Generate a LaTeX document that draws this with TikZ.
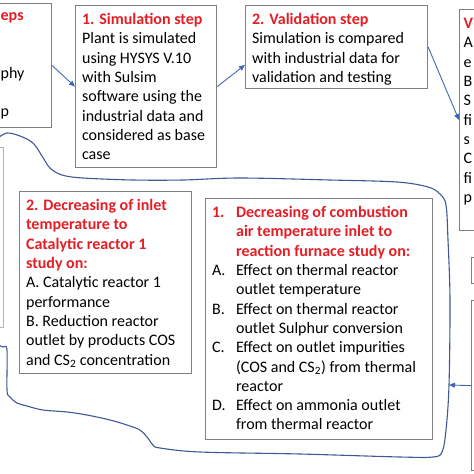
\documentclass[tikz,border=0pt]{standalone}
\usepackage{fontspec}
\setmainfont{Carlito}
\usetikzlibrary{arrows.meta}
\definecolor{boxgray}{RGB}{128,128,128}
\definecolor{stepred}{RGB}{228,30,36}
\definecolor{linkblue}{RGB}{68,104,176}
\newcommand{\stephead}[1]{{\color{stepred}\bfseries #1}}
\newcommand{\steptext}[3]{\parbox[t][#2pt][t]{#1pt}{\raggedright\strut #3}}
\newcommand{\listline}[2]{{\let\\\newline\hangindent=24pt\hangafter=1\noindent\makebox[24pt][l]{#1}#2\par}}
\begin{document}
\begin{tikzpicture}[x=1pt,y=-1pt]
\tikzstyle{every node}+=[inner sep=0pt]
\tikzstyle{stepbox}=[draw=boxgray,line width=1.2pt,anchor=north west,inner xsep=6.5pt,inner ysep=5.5pt,font=\fontsize{16}{19.3}\selectfont]
\tikzstyle{link}=[linkblue,line width=0.9pt,-{Triangle[length=6pt,width=5pt]}]
\tikzstyle{freehand}=[draw={rgb,255:red,64;green,88;blue,150},line width=1.1pt]
\useasboundingbox (0,0) rectangle (474,474);
\clip (0,0) rectangle (474,474);
\node [stepbox,minimum width=71pt,minimum height=124pt] (tl) at (-20,3) {};
\node [anchor=base west,font=\fontsize{16}{19.3}\selectfont] (tlhead) at (0.5,20) {\stephead{eps}};
\node [anchor=base west,font=\fontsize{16}{19.3}\selectfont] (tlfour) at (0.5,78) {phy};
\node [anchor=base west,font=\fontsize{16}{19.3}\selectfont] (tlsix) at (0.5,116.5) {p};
\node [stepbox] (sim) at (75,5) {\steptext{128}{151}{\stephead{1. Simulation step}\\ Plant is simulated\\ using HYSYS V.10\\ with Sulsim\\ software using the\\ industrial data and\\ considered as base\\ case}};
\node [stepbox] (val) at (245,5) {\steptext{169}{72}{\stephead{2. Validation step}\\ Simulation is compared\\ with industrial data for\\ validation and testing}};
\node [stepbox,inner xsep=4pt] (vbox) at (459,9) {\steptext{60}{210}{\stephead{V}\\ A\\ e\\ B\\ S\\ fi\\ s\\ C\\ fi\\ p}};
\node [stepbox,minimum width=40pt,minimum height=26pt] (smallbox) at (471,257) {};
\node [stepbox,minimum width=40pt,minimum height=170pt] (brbox) at (471,300) {};
\node [stepbox,draw=boxgray!60,minimum width=33pt,minimum height=180pt] (lbox) at (-30,147) {};
\node [stepbox] (inlet) at (19,191) {\steptext{159}{171}{\stephead{2. Decreasing of inlet\\ temperature to\\ Catalytic reactor 1\\ study on:}\\ A. Catalytic reactor 1\\ performance\\ B. Reduction reactor\\ outlet by products COS\\ and CS\textsubscript{2} concentration}};
\node [stepbox] (comb) at (205,198) {\steptext{214}{230}{\listline{\stephead{1.}}{\stephead{Decreasing of combustion\\ air temperature inlet to\\ reaction furnace study on:}}\listline{A.}{Effect on thermal reactor\\ outlet temperature}\listline{B.}{Effect on thermal reactor\\ outlet Sulphur conversion}\listline{C.}{Effect on outlet impurities\\ (COS and CS\textsubscript{2}) from thermal\\ reactor}\listline{D.}{Effect on ammonia outlet\\ from thermal reactor}}};
\draw [freehand] plot [smooth,tension=0.55] coordinates {(-2,138) (7,133) (20,136) (33,143) (42,156) (50,168) (62,175) (83,178) (133,180) (183,180) (240,178) (330,180) (397,182) (428,187) (440,194) (446,205) (448,240) (450,300) (449,385) (446,430) (442,452) (433,457) (400,457) (300,454) (200,452) (160,448) (153,445) (147,437) (140,430) (127,425) (110,420) (87,415) (67,412) (43,410) (27,406) (17,403) (10,397) (7,390) (7,350) (3,347) (-2,345)};
\coordinate (loopend) at (449,385);
\draw [link] (tl.east) -- (sim.west);
\draw [link] (sim.east) -- (val.191);
\draw [link] (val.east) -- (vbox.west);
\draw [link] (brbox.west) -- (loopend);
\end{tikzpicture}
\end{document}
